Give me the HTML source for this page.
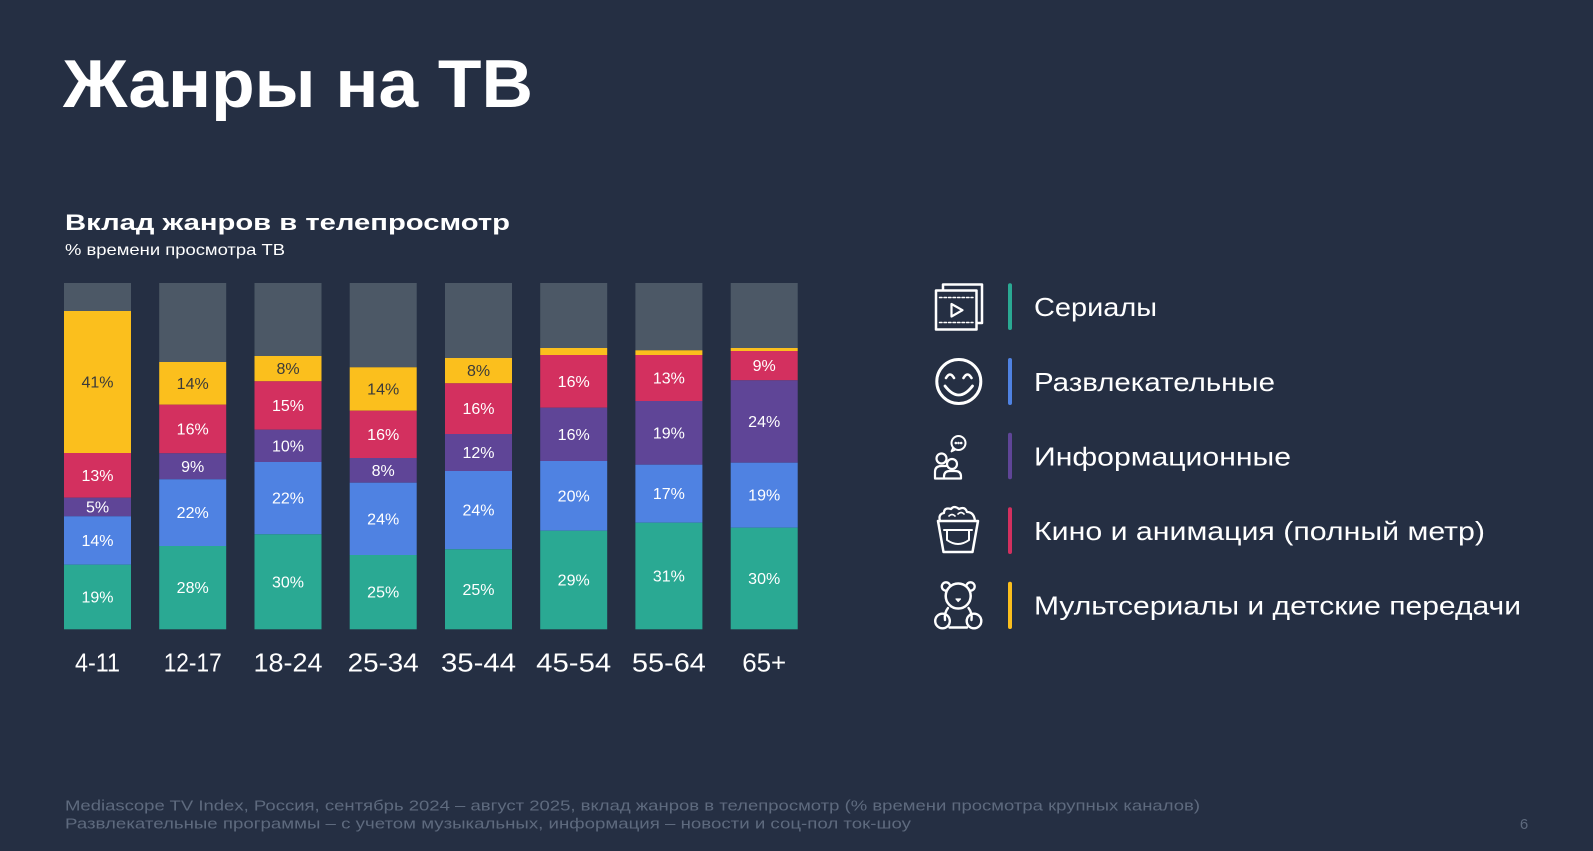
<!DOCTYPE html>
<html><head><meta charset="utf-8"><style>
html,body{margin:0;padding:0;background:#252f43;}
svg{display:block;}
text{font-family:"Liberation Sans","DejaVu Sans",sans-serif;}
</style></head><body>
<svg width="1593" height="851" viewBox="0 0 1593 851" xmlns="http://www.w3.org/2000/svg">
<rect x="0" y="0" width="1593" height="851" fill="#252f43"/>
<text x="63" y="107" font-size="68" font-weight="bold" fill="#ffffff" textLength="470" lengthAdjust="spacingAndGlyphs">Жанры на ТВ</text>
<text x="65" y="230" font-size="22.5" font-weight="bold" fill="#ffffff" textLength="445" lengthAdjust="spacingAndGlyphs">Вклад жанров в телепросмотр</text>
<text x="65" y="255" font-size="16" fill="#ffffff" textLength="220" lengthAdjust="spacingAndGlyphs">% времени просмотра ТВ</text>

<g id="bars">
<!-- Bar 1 -->
<rect x="64" y="283" width="67" height="28" fill="#4c5866"/>
<rect x="64" y="311" width="67" height="142" fill="#fbbf1d"/>
<rect x="64" y="453" width="67" height="44.7" fill="#d3305f"/>
<rect x="64" y="497.7" width="67" height="18.6" fill="#5f4597"/>
<rect x="64" y="516.3" width="67" height="48.4" fill="#4f82e2"/>
<rect x="64" y="564.7" width="67" height="64.6" fill="#2aa993"/>
<!-- Bar 2 -->
<rect x="159.2" y="283" width="67" height="79" fill="#4c5866"/>
<rect x="159.2" y="362" width="67" height="42.7" fill="#fbbf1d"/>
<rect x="159.2" y="404.7" width="67" height="48.6" fill="#d3305f"/>
<rect x="159.2" y="453.3" width="67" height="26" fill="#5f4597"/>
<rect x="159.2" y="479.3" width="67" height="66.7" fill="#4f82e2"/>
<rect x="159.2" y="546" width="67" height="83.3" fill="#2aa993"/>
<!-- Bar 3 -->
<rect x="254.5" y="283" width="67" height="73" fill="#4c5866"/>
<rect x="254.5" y="356" width="67" height="25.3" fill="#fbbf1d"/>
<rect x="254.5" y="381.3" width="67" height="48.4" fill="#d3305f"/>
<rect x="254.5" y="429.7" width="67" height="32.3" fill="#5f4597"/>
<rect x="254.5" y="462" width="67" height="72.3" fill="#4f82e2"/>
<rect x="254.5" y="534.3" width="67" height="95" fill="#2aa993"/>
<!-- Bar 4 -->
<rect x="349.7" y="283" width="67" height="84.3" fill="#4c5866"/>
<rect x="349.7" y="367.3" width="67" height="43.4" fill="#fbbf1d"/>
<rect x="349.7" y="410.7" width="67" height="47.3" fill="#d3305f"/>
<rect x="349.7" y="458" width="67" height="24.7" fill="#5f4597"/>
<rect x="349.7" y="482.7" width="67" height="72.3" fill="#4f82e2"/>
<rect x="349.7" y="555" width="67" height="74.3" fill="#2aa993"/>
<!-- Bar 5 -->
<rect x="445" y="283" width="67" height="75" fill="#4c5866"/>
<rect x="445" y="358" width="67" height="25.3" fill="#fbbf1d"/>
<rect x="445" y="383.3" width="67" height="50.7" fill="#d3305f"/>
<rect x="445" y="434" width="67" height="37" fill="#5f4597"/>
<rect x="445" y="471" width="67" height="78.3" fill="#4f82e2"/>
<rect x="445" y="549.3" width="67" height="80" fill="#2aa993"/>
<!-- Bar 6 -->
<rect x="540.2" y="283" width="67" height="65" fill="#4c5866"/>
<rect x="540.2" y="348" width="67" height="7" fill="#fbbf1d"/>
<rect x="540.2" y="355" width="67" height="52.7" fill="#d3305f"/>
<rect x="540.2" y="407.7" width="67" height="53.3" fill="#5f4597"/>
<rect x="540.2" y="461" width="67" height="69.7" fill="#4f82e2"/>
<rect x="540.2" y="530.7" width="67" height="98.6" fill="#2aa993"/>
<!-- Bar 7 -->
<rect x="635.4" y="283" width="67" height="67.3" fill="#4c5866"/>
<rect x="635.4" y="350.3" width="67" height="4.7" fill="#fbbf1d"/>
<rect x="635.4" y="355" width="67" height="46" fill="#d3305f"/>
<rect x="635.4" y="401" width="67" height="63.7" fill="#5f4597"/>
<rect x="635.4" y="464.7" width="67" height="58" fill="#4f82e2"/>
<rect x="635.4" y="522.7" width="67" height="106.6" fill="#2aa993"/>
<!-- Bar 8 -->
<rect x="730.7" y="283" width="67" height="65" fill="#4c5866"/>
<rect x="730.7" y="348" width="67" height="3" fill="#fbbf1d"/>
<rect x="730.7" y="351" width="67" height="29.3" fill="#d3305f"/>
<rect x="730.7" y="380.3" width="67" height="82.4" fill="#5f4597"/>
<rect x="730.7" y="462.7" width="67" height="65" fill="#4f82e2"/>
<rect x="730.7" y="527.7" width="67" height="101.6" fill="#2aa993"/>
</g>

<g font-size="16" text-anchor="middle" fill="#ffffff">
<!-- Bar 1 -->
<text x="97.5" y="387.5" fill="#3a3a3a">41%</text>
<text x="97.5" y="480.8">13%</text>
<text x="97.5" y="512.5">5%</text>
<text x="97.5" y="546">14%</text>
<text x="97.5" y="602.5">19%</text>
<!-- Bar 2 -->
<text x="192.7" y="388.8" fill="#3a3a3a">14%</text>
<text x="192.7" y="434.5">16%</text>
<text x="192.7" y="471.8">9%</text>
<text x="192.7" y="518.2">22%</text>
<text x="192.7" y="593.2">28%</text>
<!-- Bar 3 -->
<text x="288" y="374.2" fill="#3a3a3a">8%</text>
<text x="288" y="411">15%</text>
<text x="288" y="451.3">10%</text>
<text x="288" y="503.7">22%</text>
<text x="288" y="587.3">30%</text>
<!-- Bar 4 -->
<text x="383.2" y="394.5" fill="#3a3a3a">14%</text>
<text x="383.2" y="439.8">16%</text>
<text x="383.2" y="475.8">8%</text>
<text x="383.2" y="524.3">24%</text>
<text x="383.2" y="597.7">25%</text>
<!-- Bar 5 -->
<text x="478.5" y="376.2" fill="#3a3a3a">8%</text>
<text x="478.5" y="414.2">16%</text>
<text x="478.5" y="458">12%</text>
<text x="478.5" y="515.7">24%</text>
<text x="478.5" y="594.8">25%</text>
<!-- Bar 6 -->
<text x="573.7" y="386.8">16%</text>
<text x="573.7" y="439.8">16%</text>
<text x="573.7" y="501.3">20%</text>
<text x="573.7" y="585.5">29%</text>
<!-- Bar 7 -->
<text x="668.9" y="383.5">13%</text>
<text x="668.9" y="438.3">19%</text>
<text x="668.9" y="499.2">17%</text>
<text x="668.9" y="581.5">31%</text>
<!-- Bar 8 -->
<text x="764.2" y="371.2">9%</text>
<text x="764.2" y="427">24%</text>
<text x="764.2" y="500.7">19%</text>
<text x="764.2" y="584">30%</text>
</g>

<g font-size="26" text-anchor="middle" fill="#ffffff">
<text x="97.5" y="671.7" textLength="45" lengthAdjust="spacingAndGlyphs">4-11</text>
<text x="192.7" y="671.7" textLength="58" lengthAdjust="spacingAndGlyphs">12-17</text>
<text x="288" y="671.7" textLength="69" lengthAdjust="spacingAndGlyphs">18-24</text>
<text x="383.2" y="671.7" textLength="71" lengthAdjust="spacingAndGlyphs">25-34</text>
<text x="478.5" y="671.7" textLength="75" lengthAdjust="spacingAndGlyphs">35-44</text>
<text x="573.7" y="671.7" textLength="75" lengthAdjust="spacingAndGlyphs">45-54</text>
<text x="668.9" y="671.7" textLength="74" lengthAdjust="spacingAndGlyphs">55-64</text>
<text x="764.2" y="671.7" textLength="44" lengthAdjust="spacingAndGlyphs">65+</text>
</g>

<!-- Legend colour bars -->
<rect x="1008" y="283.3" width="4" height="46.7" rx="2" fill="#2aa993"/>
<rect x="1008" y="358" width="4" height="47" rx="2" fill="#4f82e2"/>
<rect x="1008" y="432.7" width="4" height="46.6" rx="2" fill="#5f4597"/>
<rect x="1008" y="507.3" width="4" height="46.7" rx="2" fill="#d3305f"/>
<rect x="1008" y="581.7" width="4" height="47.3" rx="2" fill="#fbbf1d"/>

<g font-size="26" fill="#ffffff">
<text x="1034" y="316" textLength="123" lengthAdjust="spacingAndGlyphs">Сериалы</text>
<text x="1034" y="390.8" textLength="241" lengthAdjust="spacingAndGlyphs">Развлекательные</text>
<text x="1034" y="465.3" textLength="257" lengthAdjust="spacingAndGlyphs">Информационные</text>
<text x="1034" y="540" textLength="451" lengthAdjust="spacingAndGlyphs">Кино и анимация (полный метр)</text>
<text x="1034" y="614.6" textLength="487" lengthAdjust="spacingAndGlyphs">Мультсериалы и детские передачи</text>
</g>

<!-- Icons -->
<g fill="none" stroke="#ffffff" stroke-width="2.5" stroke-linejoin="round" stroke-linecap="round">
<!-- Icon 1: film -->
<rect x="943" y="284.5" width="39" height="38.5" />
<rect x="936" y="290.5" width="40.5" height="39" fill="#252f43"/>
<line x1="939.5" y1="297.5" x2="973" y2="297.5" stroke-width="1.5" stroke-dasharray="2.5 2"/>
<line x1="939.5" y1="322.5" x2="973" y2="322.5" stroke-width="1.5" stroke-dasharray="2.5 2"/>
<path d="M951.5 304 L951.5 316.5 L962.5 310.2 Z" stroke-width="2.2"/>
<!-- Icon 2: smiley -->
<circle cx="958.8" cy="381.5" r="22" stroke-width="3"/>
<path d="M946 378 Q950 371 954 378" stroke-width="2.6"/>
<path d="M963.5 378 Q967.5 371 971.5 378" stroke-width="2.6"/>
<path d="M945 386 Q958.8 404 972.5 386" stroke-width="2.8"/>
<!-- Icon 3: people + bubble -->
<circle cx="941.5" cy="458.5" r="5" stroke-width="2.2"/>
<path d="M935 478 L935 472 Q935 466 941.5 466 L946 466" stroke-width="2.2"/>
<circle cx="952" cy="464" r="5" stroke-width="2.2"/>
<path d="M944 478.5 L944 476.5 Q944 471 950 471 L955 471 Q961 471 961 476.5 L961 478.5 Z" stroke-width="2.2"/>
<path d="M935 478.5 L944 478.5" stroke-width="2.2"/>
<circle cx="958.5" cy="443" r="7" stroke-width="2"/>
<path d="M953 448 L951.5 451.5 L955.5 449.5" stroke-width="1.8"/>
<circle cx="955.8" cy="443" r="0.6" stroke-width="1.4"/>
<circle cx="958.5" cy="443" r="0.6" stroke-width="1.4"/>
<circle cx="961.2" cy="443" r="0.6" stroke-width="1.4"/>
<!-- Icon 4: popcorn -->
<path d="M938 521 L978 521 L972.5 552 L943.5 552 Z" stroke-width="2.5"/>
<path d="M940 521 Q938 514 944 513 Q944 507 951 509 Q954 505 959 509 Q965 506 967 512 Q974 512 975 521" stroke-width="2.3"/>
<path d="M944 530 L972 530" stroke-width="2"/>
<path d="M947 530 L947 540 Q958 548 969 540 L969 530" stroke-width="2"/>
<path d="M949 516 Q952 513 955 516 M958 514 Q961 511 964 514" stroke-width="1.6"/>
<!-- Icon 5: bear -->
<circle cx="946" cy="586.5" r="4.2" stroke-width="2.3"/>
<circle cx="970.5" cy="586.5" r="4.2" stroke-width="2.3"/>
<circle cx="958.2" cy="596" r="12.5" stroke-width="2.5" fill="#252f43"/>
<path d="M956 599 L960.5 599 L958.2 601.5 Z" fill="#ffffff" stroke-width="1.2"/>
<path d="M948 608 Q944 613 945 620 M968.5 608 Q972.5 613 971.5 620" stroke-width="2.4"/>
<circle cx="942.5" cy="621" r="7.3" stroke-width="2.4"/>
<circle cx="974" cy="621" r="7.3" stroke-width="2.4"/>
<path d="M949.5 627.5 L967 627.5" stroke-width="2.4"/>
</g>

<!-- Footer -->
<g font-size="15" fill="#5e6a7e">
<text x="65" y="810.5" textLength="1135" lengthAdjust="spacingAndGlyphs">Mediascope TV Index, Россия, сентябрь 2024 – август 2025, вклад жанров в телепросмотр (% времени просмотра крупных каналов)</text>
<text x="65" y="828.5" textLength="846" lengthAdjust="spacingAndGlyphs">Развлекательные программы – с учетом музыкальных, информация – новости и соц-пол ток-шоу</text>
<text x="1524" y="829" text-anchor="middle">6</text>
</g>
</svg>
</body></html>
